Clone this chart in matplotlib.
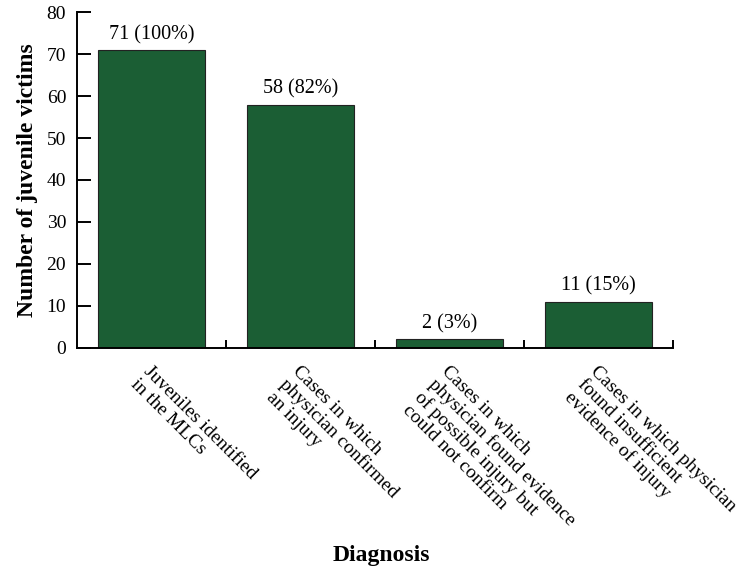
import matplotlib
matplotlib.use("Agg")
import matplotlib.pyplot as plt

categories = [
    "Juveniles identified\nin the MLCs",
    "Cases in which\nphysician confirmed\nan injury",
    "Cases in which\nphysician found evidence\nof possible injury but\ncould not confirm",
    "Cases in which physician\nfound insufficient\nevidence of injury",
]
counts = [71, 58, 2, 11]
percents = [100, 82, 3, 15]
yticks = [0, 10, 20, 30, 40, 50, 60, 70, 80]

plt.rcParams['font.family'] = ['Liberation Serif', 'DejaVu Serif']

fig = plt.figure(figsize=(7.43, 5.74), dpi=100)
ax = fig.add_axes([0.104, 0.3943, 0.802, 0.5843])

x = list(range(len(categories)))
bars = ax.bar(x, counts, width=0.72, color='#1b5e34', edgecolor='#222222', linewidth=0.8)

for xi, c, p in zip(x, counts, percents):
    ax.text(xi, c + 1.4, f"{c} ({p}%)", ha='center', va='bottom', fontsize=14.5)

ax.set_xlim(-0.5, len(categories) - 0.5)
ax.set_ylim(0, 80)
ax.set_yticks(yticks)
ax.tick_params(axis='y', direction='in', length=10, width=1.4, labelsize=14, pad=8)

ax.set_xticks(x)
ax.set_xticklabels(categories, rotation=-45, ha='left', va='top',
                   rotation_mode='anchor', fontsize=14, linespacing=1.05)
ax.tick_params(axis='x', length=0, pad=11)
ax.set_xticks([i + 0.5 for i in x], minor=True)
ax.tick_params(axis='x', which='minor', direction='in', length=6, width=1.4)

for side in ['top', 'right']:
    ax.spines[side].set_visible(False)
for side in ['left', 'bottom']:
    ax.spines[side].set_linewidth(1.4)

ax.set_ylabel("Number of juvenile victims", fontsize=17, fontweight='bold', labelpad=6)
fig.text(0.513, 0.033, "Diagnosis", ha='center', va='center', fontsize=17, fontweight='bold')

fig.savefig("out.png", dpi=100)
